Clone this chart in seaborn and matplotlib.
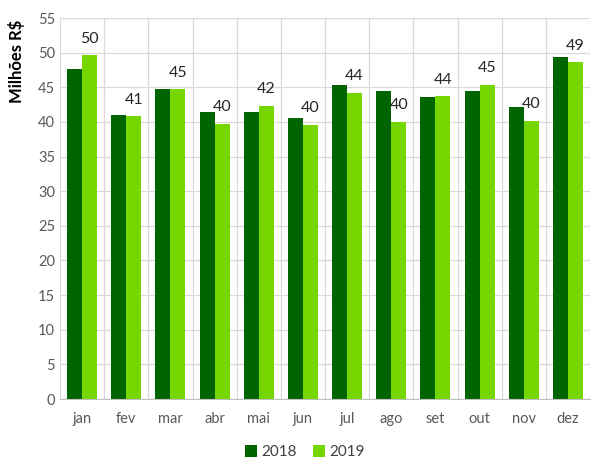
import pandas as pd
import numpy as np
import matplotlib
matplotlib.use("Agg")
import matplotlib.pyplot as plt
import seaborn as sns

months = ["jan", "fev", "mar", "abr", "mai", "jun", "jul", "ago", "set", "out", "nov", "dez"]
v2018 = [47.6, 41.0, 44.7, 41.5, 41.5, 40.5, 45.3, 44.5, 43.6, 44.4, 42.2, 49.4]
v2019 = [49.6, 40.8, 44.7, 39.7, 42.3, 39.6, 44.2, 40.0, 43.7, 45.4, 40.2, 48.6]
years = ["2018", "2019"]
yticks = list(range(0, 56, 5))

df = pd.DataFrame({
    "mes": months * 2,
    "valor": v2018 + v2019,
    "ano": [years[0]] * len(months) + [years[1]] * len(months),
})

sns.set_style("white")
plt.rcParams["font.family"] = ["Lato", "DejaVu Sans"]

fig = plt.figure(figsize=(6.01, 4.59), dpi=100)
ax = fig.add_axes([0.0998, 0.1307, 0.882, 0.830])

palette = {"2018": "#006400", "2019": "#76D600"}
sns.barplot(data=df, x="mes", y="valor", hue="ano", palette=palette,
            width=0.68, ax=ax, saturation=1, linewidth=0)

ax.bar_label(ax.containers[1], labels=[f"{v:.0f}" for v in v2019],
             padding=7, fontsize=11.5, color="#262626")

ax.set_ylim(0, 55)
ax.set_xlim(-0.5, len(months) - 0.5)
ax.set_yticks(yticks)
ax.set_xticks(np.arange(-0.5, len(months), 1.0), minor=True)
ax.tick_params(axis="both", which="both", length=0, labelsize=10.5, colors="#595959")
ax.tick_params(axis="x", pad=9)
ax.grid(axis="y", which="major", color="#d9d9d9", lw=0.9)
ax.grid(axis="x", which="minor", color="#d9d9d9", lw=0.9)
ax.set_axisbelow(True)
for s in ["top", "right", "left"]:
    ax.spines[s].set_visible(False)
ax.spines["bottom"].set_color("#bfbfbf")

ax.set_xlabel("")
ax.set_ylabel("Milhões R$", fontsize=12, fontweight="bold", color="black")
ax.yaxis.set_label_coords(-0.066, 0.885)

ax.legend(loc="center", bbox_to_anchor=(0.462, -0.139), ncol=2, frameon=False,
          fontsize=11, handlelength=0.8, handleheight=0.8, handletextpad=0.3,
          columnspacing=1.0, labelcolor="#404040")

fig.savefig("out.png", dpi=100)
